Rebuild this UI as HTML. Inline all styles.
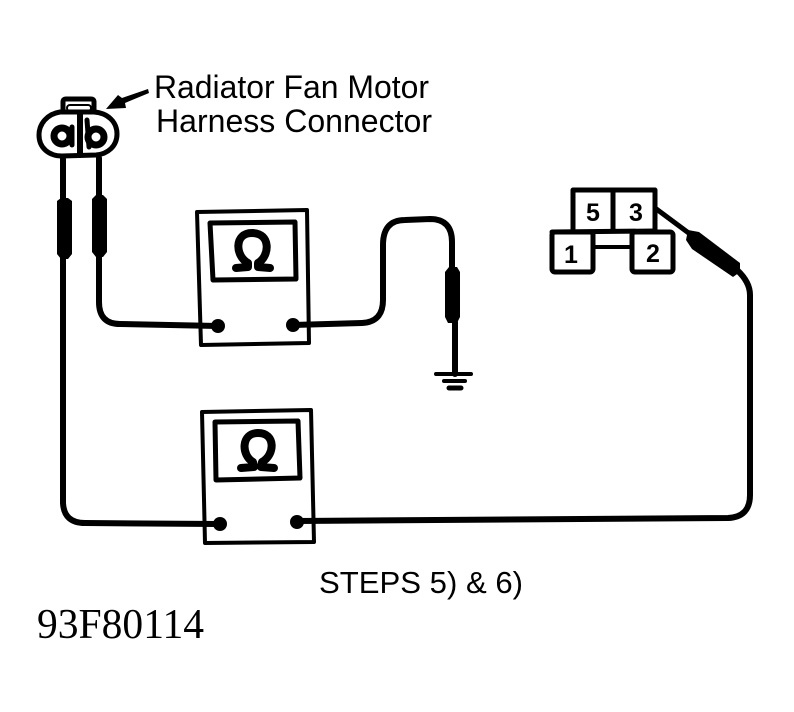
<!DOCTYPE html>
<html>
<head>
<meta charset="utf-8">
<style>
html,body{margin:0;padding:0;background:#fff;}
svg{display:block;}
text{fill:#000;}
</style>
</head>
<body>
<svg width="794" height="712" viewBox="0 0 794 712" xmlns="http://www.w3.org/2000/svg">
<rect width="794" height="712" fill="#fff"/>
<g fill="none" stroke="#000" stroke-linecap="round" stroke-linejoin="round">
  <!-- Harness connector -->
  <path d="M63 111 L63 102 Q63 99 66 99 L91 99 Q94 99 94 102 L94 111" stroke-width="5"/>
  <rect x="67" y="105" width="24" height="6" rx="3" stroke-width="2"/>
  <path d="M60 112 C47 114 39 124 39 135 C39 148 49 156 62 156 L96 155 C108 154 117 146 117 134 C117 122 108 113 94 112 Z" stroke-width="5"/>
  <path d="M80 113 L80 155" stroke-width="6"/>
  <!-- a -->
  <circle cx="62" cy="136" r="8" stroke-width="7"/>
  <path d="M72 127 L72 145" stroke-width="5"/>
  <!-- b -->
  <circle cx="96" cy="137" r="8" stroke-width="7"/>
  <path d="M87 120 L89 147" stroke-width="5"/>

  <!-- Wires -->
  <path d="M63 158 L63 503 Q64 523 85 523 L218 524" stroke-width="6"/>
  <path d="M99 158 L99 302 Q99 324 120 324 L218 326" stroke-width="6"/>
  <path d="M293 325 L362 323 Q383 322 383 300 L383 245 Q383 220 405 220 L430 219 Q452 219 452 242 L452 270" stroke-width="6"/>
  <path d="M455 322 L455 374" stroke-width="6"/>
  <path d="M297 521 L728 518 Q750 517 750 495 L750 295 Q750 282 737 270" stroke-width="6"/>
  <path d="M655 208 L690 234" stroke-width="5"/>

  <!-- Meter 1 -->
  <path d="M197 212 L307 210 L309 343 L201 345 Z" stroke-width="4"/>
  <path d="M210 223 L295 222 L296 279 L213 280 Z" stroke-width="5"/>
  <!-- Meter 2 -->
  <path d="M202 412 L311 410 L314 542 L205 543 Z" stroke-width="4"/>
  <path d="M215 422 L298 421 L300 478 L216 480 Z" stroke-width="5"/>

  <!-- Omegas -->
  <path d="M236 268 L248 267 L248 263 C235 256 234 233 252 233 C271 233 270 256 258 263 L258 267 L270 268" stroke-width="8"/>
  <path d="M241 468 L254 467 L253 462 C241 455 241 433 258 433 C276 433 275 455 262 462 L261 467 L274 468" stroke-width="8"/>

  <!-- Relay block -->
  <path d="M573 190 L655 190 L655 232 M573 190 L573 232 M613 190 L613 231" stroke-width="5"/>
  <path d="M552 232 L655 231" stroke-width="5"/>
  <rect x="552" y="232" width="41" height="40" rx="3" stroke-width="5"/>
  <rect x="632" y="232" width="41" height="40" rx="3" stroke-width="5"/>
  <path d="M594 247 L632 247" stroke-width="4"/>

  <!-- Ground -->
  <path d="M436 374 L471 374" stroke-width="4"/>
  <path d="M444 381 L465 381" stroke-width="4"/>
  <path d="M449 388 L461 388" stroke-width="5"/>
</g>

<g fill="#000" stroke="none">
  <!-- Probes -->
  <path d="M57 201 L61 198 L68 198 L72 201 L72 254 L68 259 L61 259 L57 254 Z"/>
  <path d="M92 199 L96 195 L103 195 L107 199 L107 252 L103 257 L96 257 L92 252 Z"/>
  <path d="M445 272 L449 267 L457 267 L460 272 L460 317 L457 323 L448 323 L445 317 Z"/>
  <path d="M688 230 L699 232 L740 263 L740 272 L733 277 L692 249 L686 240 Z"/>
  <!-- Terminals -->
  <circle cx="218" cy="326" r="7"/>
  <circle cx="293" cy="325" r="7"/>
  <circle cx="220" cy="524" r="7"/>
  <circle cx="297" cy="522" r="7"/>
  <!-- Arrow -->
  <path d="M148 89 L149 93 L125 103 L126 108 L106 109 L118 95 L122 98 Z"/>

  <!-- Relay numbers -->
  <text x="593" y="221" font-family="'Liberation Sans',sans-serif" font-size="25" font-weight="bold" text-anchor="middle">5</text>
  <text x="636" y="221" font-family="'Liberation Sans',sans-serif" font-size="25" font-weight="bold" text-anchor="middle">3</text>
  <text x="571" y="263" font-family="'Liberation Sans',sans-serif" font-size="25" font-weight="bold" text-anchor="middle">1</text>
  <text x="653" y="262" font-family="'Liberation Sans',sans-serif" font-size="25" font-weight="bold" text-anchor="middle">2</text>

  <!-- Labels -->
  <text x="154" y="98" font-family="'Liberation Sans',sans-serif" font-size="32" textLength="275" lengthAdjust="spacingAndGlyphs">Radiator Fan Motor</text>
  <text x="156" y="132" font-family="'Liberation Sans',sans-serif" font-size="32" textLength="276" lengthAdjust="spacingAndGlyphs">Harness Connector</text>
  <text x="319" y="593" font-family="'Liberation Sans',sans-serif" font-size="31" textLength="204" lengthAdjust="spacingAndGlyphs">STEPS 5) &amp; 6)</text>
  <text x="37" y="638" font-family="'Liberation Serif',serif" font-size="42" textLength="167" lengthAdjust="spacingAndGlyphs">93F80114</text>
</g>
</svg>
</body>
</html>
